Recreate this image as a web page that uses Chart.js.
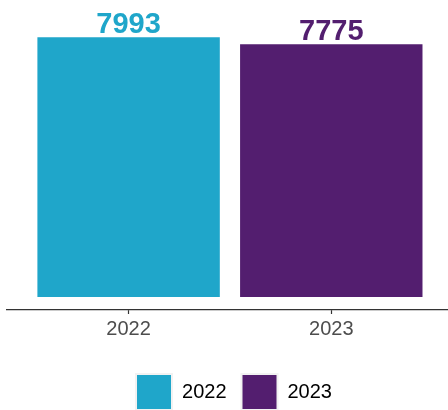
<!DOCTYPE html>
<html>
<head>
<meta charset="utf-8">
<script src="https://cdn.jsdelivr.net/npm/chart.js@4.4.1/dist/chart.umd.min.js"></script>
<style>
  html, body { margin: 0; padding: 0; overflow: hidden; background: #fff; }
  #wrap { width: 478px; height: 410px; }
</style>
</head>
<body>
<div id="wrap"><canvas id="BarChart" width="478" height="410"></canvas></div>
<script>
// data
const years = ["2022", "2023"];
const totals = [7993, 7775];
const barColors = ["#1FA6CA", "#531E6F"];

const fontFamily = "'Liberation Sans', Arial, sans-serif";

// value labels on top of the bars
const valueLabels = {
    id: 'valueLabels',
    afterDatasetsDraw(chart) {
        const ctx = chart.ctx;
        ctx.save();
        ctx.font = "bold 29px " + fontFamily;
        ctx.textAlign = 'center';
        ctx.textBaseline = 'bottom';
        chart.getDatasetMeta(0).data.forEach((bar, i) => {
            ctx.fillStyle = barColors[i];
            ctx.fillText(String(totals[i]), bar.x, bar.y + 2);
        });
        ctx.restore();
    }
};

let ctx = document.getElementById('BarChart').getContext('2d');

new Chart(ctx, {
    type: 'bar',
    data: {
        datasets: [{
            label: "Total",
            data: years.map((yr, i) => ({ x: i + 1, y: totals[i] })),
            backgroundColor: barColors,
            borderWidth: 0,
            barPercentage: 0.9,
            categoryPercentage: 1.0
        }]
    },
    plugins: [valueLabels],
    options: {
        responsive: false,
        animation: false,
        layout: { padding: { left: 7, right: 17, top: 24, bottom: -10 } },
        scales: {
            x: {
                type: 'linear',
                offset: false,
                min: 0.4,
                max: 2.64,
                afterBuildTicks: (scale) => {
                    scale.ticks = years.map((y, i) => ({ value: i + 1 }));
                },
                afterFit: (scale) => {
                    scale.height += 15;
                },
                grid: {
                    display: true,
                    offset: false,
                    drawOnChartArea: false,
                    drawTicks: true,
                    tickLength: 4,
                    tickWidth: 1.2,
                    color: '#333333'
                },
                border: { display: true, color: '#333333', width: 1.2 },
                ticks: {
                    color: '#4D4D4D',
                    padding: 3,
                    font: { family: fontFamily, size: 20 },
                    maxRotation: 0,
                    callback: (v) => years[v - 1]
                }
            },
            y: {
                display: false,
                min: -400,
                max: 8400
            }
        },
        plugins: {
            tooltip: { enabled: false },
            legend: {
                position: 'bottom',
                labels: {
                    boxWidth: 36,
                    boxHeight: 36,
                    padding: 15,
                    color: '#1A1A1A',
                    font: { family: fontFamily, size: 20 },
                    generateLabels: () => years.map((yr, i) => ({
                        text: yr,
                        fillStyle: barColors[i],
                        strokeStyle: '#F2F2F2',
                        lineWidth: 2,
                        hidden: false,
                        index: i,
                        datasetIndex: 0
                    }))
                }
            }
        }
    }
});
</script>
</body>
</html>
